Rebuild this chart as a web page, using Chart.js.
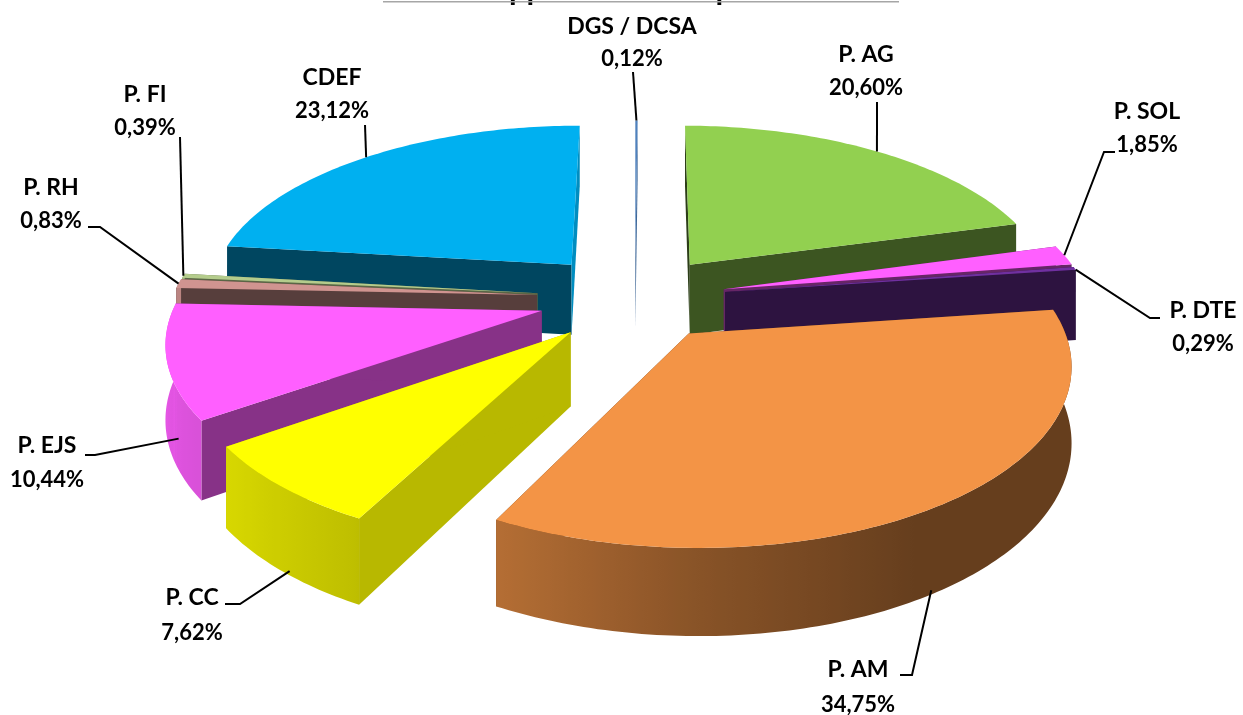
<!DOCTYPE html>
<html>
<head>
<meta charset="utf-8">
<title>Taux de rapport</title>
<script src="https://cdn.jsdelivr.net/npm/chart.js@4/dist/chart.umd.js"></script>
<style>
  html, body { margin: 0; padding: 0; background: #fff; overflow: hidden; }
  canvas { display: block; }
</style>
</head>
<body>
<canvas id="pie3d" width="1243" height="715"></canvas>
<script>
"use strict";

const titleText = "Taux de rapport mensuel par service";
const categories = ["DGS / DCSA", "P. AG", "P. SOL", "P. DTE", "P. AM", "P. CC", "P. EJS", "P. RH", "P. FI", "CDEF"];
const shares = [0.12, 20.60, 1.85, 0.29, 34.75, 7.62, 10.44, 0.83, 0.39, 23.12];

// styles, one per slice
const colors = ["#4f81bd", "#92d050", "#ff5fff", "#7030a0", "#f39446", "#ffff00", "#ff5fff", "#d09490", "#b4cc8c", "#00b0f0"];
const explode = [77, 80, 79, 79, 78, 82, 83, 85, 85, 85];
const wallShades = [[0.8, 0.8], [0.3, 0.41], [0.4, 0.4], [0.4, 0.4], [0.4, 0.4], [0.72, 0.72], [0.53, 0.53], [0.42, 0.42], [0.5, 0.5], [0.4, 0.8]];

// label layout: centre x, name baseline, value baseline
const labelSpots = [[632, 34, 66], [866, 62, 95], [1147, 119, 152], [1203, 318, 351], [858, 677, 712], [192, 605, 640], [47, 453, 487], [51, 195, 228], [145, 102, 135], [332, 85, 118]];
// leader line elbows, the last point is found on the slice rim
const leaderElbows = [[[633, 72]], [[877, 102]], [[1115, 152], [1104, 152]], [[1160, 318], [1150, 318]], [[900, 675], [912, 675]], [[225, 604], [240, 604]], [[85, 455], [95, 455]], [[88, 227], [100, 227]], [[180, 137]], [[365, 125]]];
const leaderDepth = [0, 0, 0, 0, 0.95, 0.95, 0.6, 0, 0, 0];
const leaderSpan = [0.5, 0.5, 0.5, 0.9, 0.52, 0.44, 0.25, 0.5, 0.5, 0.5];

// view of the pie plane
const view = { cx: 635, cy: 298, radius: 365, tilt: 0.465, persp: 0.000418, depth: 72 };

function project(x, y, z) {
  const s = 1 / (1 - view.persp * y);
  return [view.cx + x * s, view.cy + (view.tilt * y + z * view.depth) * s];
}

function shadeColor(hex, f) {
  const n = parseInt(hex.slice(1), 16);
  const r = Math.round(((n >> 16) & 255) * f);
  const g = Math.round(((n >> 8) & 255) * f);
  const b = Math.round((n & 255) * f);
  return "rgb(" + r + "," + g + "," + b + ")";
}

// brightness of the outer wall from where it faces
function rimLight(nx) {
  const pts = [[-1, 0.9], [-0.45, 0.74], [0, 0.56], [0.5, 0.42], [1, 0.42]];
  for (let i = 1; i < pts.length; i++) {
    if (nx <= pts[i][0]) {
      const t = (nx - pts[i - 1][0]) / (pts[i][0] - pts[i - 1][0]);
      return pts[i - 1][1] + t * (pts[i][1] - pts[i - 1][1]);
    }
  }
  return 0.42;
}

function fillPoly(ctx, pts, color) {
  ctx.beginPath();
  pts.forEach((p, i) => i ? ctx.lineTo(p[0], p[1]) : ctx.moveTo(p[0], p[1]));
  ctx.closePath();
  ctx.fillStyle = color;
  ctx.fill();
}

// slice geometry in the pie plane, taken from the arc element
function sliceShape(arc) {
  const scale = view.radius / arc.outerRadius;
  const mid = (arc.startAngle + arc.endAngle) / 2;
  const off = arc.options.offset * scale;
  return { ox: Math.cos(mid) * off, oy: Math.sin(mid) * off, r: view.radius, mid: mid, a0: arc.startAngle, a1: arc.endAngle };
}

function drawSlice(ctx, arc, index) {
  const sh = sliceShape(arc);
  const base = arc.options.backgroundColor;
  const rimAt = (a, z) => project(sh.ox + Math.cos(a) * sh.r, sh.oy + Math.sin(a) * sh.r, z);
  const apex = z => project(sh.ox, sh.oy, z);
  const steps = Math.max(2, Math.ceil((sh.a1 - sh.a0) * 60));
  const angle = i => sh.a0 + (sh.a1 - sh.a0) * i / steps;

  fillPoly(ctx, [apex(0), rimAt(sh.a0, 0), rimAt(sh.a0, 1), apex(1)], shadeColor(base, wallShades[index][0]));
  fillPoly(ctx, [apex(0), rimAt(sh.a1, 0), rimAt(sh.a1, 1), apex(1)], shadeColor(base, wallShades[index][1]));

  // outer wall: one polygon with a left to right gradient
  const upper = [], lower = [], tones = [];
  for (let i = 0; i <= steps; i++) {
    const a = angle(i);
    if (Math.sin(a) < -0.12) continue;
    upper.push(rimAt(a, 0));
    lower.push(rimAt(a, 1));
    tones.push([rimAt(a, 0)[0], rimLight(Math.cos(a))]);
  }
  if (upper.length > 1) {
    const xs = tones.map(t => t[0]);
    const minX = Math.min(...xs), maxX = Math.max(...xs);
    const grad = ctx.createLinearGradient(minX, 0, Math.max(maxX, minX + 1), 0);
    tones.forEach(t => grad.addColorStop((t[0] - minX) / Math.max(maxX - minX, 1), shadeColor(base, t[1])));
    fillPoly(ctx, upper.concat(lower.reverse()), grad);
  }

  const top = [apex(0)];
  for (let i = 0; i <= steps; i++) top.push(rimAt(angle(i), 0));
  fillPoly(ctx, top, base);
}

const pie3d = {
  id: "pie3d",
  beforeDatasetsDraw(chart) {
    const ctx = chart.ctx;
    const arcs = chart.getDatasetMeta(0).data;
    const order = arcs.map((a, i) => i).sort((i, j) => sliceShape(arcs[i]).oy - sliceShape(arcs[j]).oy);
    ctx.save();
    order.forEach(i => drawSlice(ctx, arcs[i], i));
    ctx.restore();
    return false;
  },
  afterDraw(chart) {
    const ctx = chart.ctx;
    const arcs = chart.getDatasetMeta(0).data;
    ctx.save();

    // title, cut by the top of the picture
    ctx.fillStyle = "#000";
    ctx.textAlign = "left";
    ctx.font = "bold 31px Lato";
    ctx.fillText(titleText, 368, 0);
    ctx.fillStyle = "#a6a6a6";
    ctx.fillRect(383, 1, 516, 1.5);

    ctx.textAlign = "center";
    arcs.forEach((arc, i) => {
      const sh = sliceShape(arc);
      const a = sh.a0 + (sh.a1 - sh.a0) * leaderSpan[i];
      const end = project(sh.ox + Math.cos(a) * sh.r, sh.oy + Math.sin(a) * sh.r, leaderDepth[i]);
      ctx.beginPath();
      leaderElbows[i].forEach((p, k) => k ? ctx.lineTo(p[0], p[1]) : ctx.moveTo(p[0], p[1]));
      ctx.lineTo(end[0], end[1]);
      ctx.strokeStyle = "#000";
      ctx.lineWidth = 2;
      ctx.stroke();

      const spot = labelSpots[i];
      ctx.fillStyle = "#000";
      ctx.font = "bold 23px Lato";
      ctx.fillText(categories[i], spot[0], spot[1]);
      ctx.font = "bold 22px Lato";
      ctx.fillText(shares[i].toFixed(2).replace(".", ",") + "%", spot[0], spot[2]);
    });
    ctx.restore();
  }
};

new Chart(document.getElementById("pie3d").getContext("2d"), {
  type: "pie",
  data: {
    labels: categories,
    datasets: [{
      data: shares,
      backgroundColor: colors,
      offset: explode,
      borderWidth: 0
    }]
  },
  options: {
    responsive: false,
    animation: false,
    layout: { padding: 0 },
    plugins: { legend: { display: false }, tooltip: { enabled: false } }
  },
  plugins: [pie3d]
});
</script>
</body>
</html>
